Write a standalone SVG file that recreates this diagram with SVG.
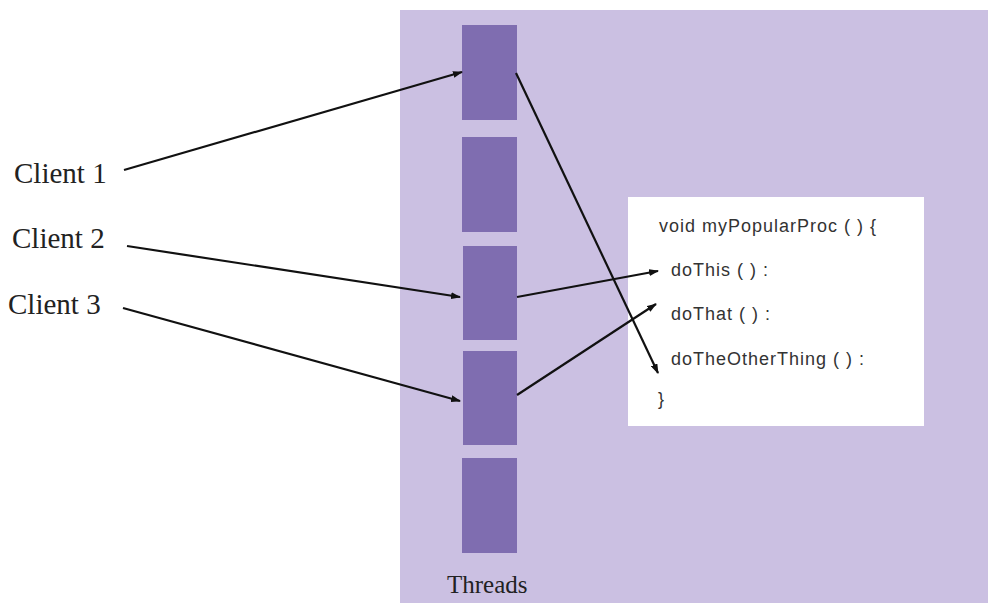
<svg xmlns="http://www.w3.org/2000/svg" width="988" height="603" viewBox="0 0 988 603">
<defs>
<marker id="ah" viewBox="0 0 10 10" refX="9" refY="5" markerWidth="10" markerHeight="7" markerUnits="userSpaceOnUse" orient="auto" preserveAspectRatio="none">
<path d="M0,0 L10,5 L0,10 Z" fill="#111"/>
</marker>
<style>
.thread{fill:#7f6db0}
.client{font-family:"Liberation Serif",serif;font-size:29px;fill:#222}
.code{font-family:"Liberation Sans",Arial,sans-serif;font-size:18px;letter-spacing:1px;fill:#333}
.conn{stroke:#111;stroke-width:2.2;fill:none;marker-end:url(#ah)}
</style>
</defs>
<rect x="0" y="0" width="988" height="603" fill="#ffffff"/>
<rect id="process" x="400" y="10" width="588" height="593" fill="#cbc0e2"/>
<g id="thread1"><rect class="thread" x="462" y="25" width="55" height="95"/></g>
<g id="thread2"><rect class="thread" x="462" y="137" width="55" height="95"/></g>
<g id="thread3"><rect class="thread" x="463" y="246" width="54" height="94"/></g>
<g id="thread4"><rect class="thread" x="463" y="351" width="54" height="94"/></g>
<g id="thread5"><rect class="thread" x="462" y="458" width="55" height="95"/></g>
<g id="threads-label"><text x="447" y="593" font-family="Liberation Serif,serif" font-size="25" fill="#222">Threads</text></g>
<g id="client1"><text class="client" x="14" y="183">Client 1</text></g>
<g id="client2"><text class="client" x="12" y="248">Client 2</text></g>
<g id="client3"><text class="client" x="8" y="314">Client 3</text></g>
<g id="proc">
<rect x="628" y="197" width="296" height="229" fill="#ffffff"/>
<text class="code" x="659" y="232">void myPopularProc ( ) {</text>
<text class="code" x="671" y="276">doThis ( ) :</text>
<text class="code" x="671" y="320">doThat ( ) :</text>
<text class="code" x="671" y="365">doTheOtherThing ( ) :</text>
<text class="code" x="658" y="405">}</text>
</g>
<g id="connectors">
<line class="conn" x1="124" y1="170" x2="462" y2="72"/>
<line class="conn" x1="127" y1="246" x2="460" y2="297"/>
<line class="conn" x1="123" y1="308" x2="460" y2="401"/>
<line class="conn" x1="516" y1="73" x2="658" y2="373"/>
<line class="conn" x1="517" y1="297" x2="658" y2="271"/>
<line class="conn" x1="517" y1="395" x2="656" y2="304"/>
</g>
</svg>
